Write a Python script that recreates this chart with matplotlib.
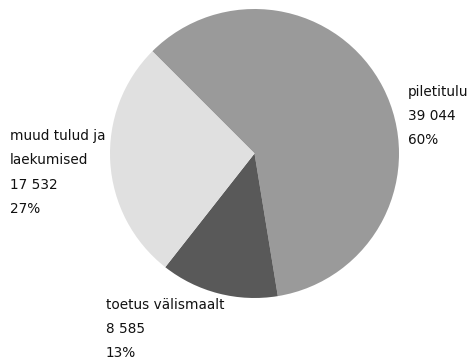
import matplotlib
matplotlib.use("Agg")
import matplotlib.pyplot as plt

labels = ["piletitulu", "toetus välismaalt", "muud tulud ja\nlaekumised"]
values = [39044, 8585, 17532]
percents = ["60%", "13%", "27%"]
value_labels = ["39 044", "8 585", "17 532"]
colors = ["#9a9a9a", "#595959", "#e0e0e0"]

W, H = 473, 363
fig = plt.figure(figsize=(W / 100, H / 100), dpi=100)
fig.patch.set_facecolor("white")

cx, cy, r = 254.5, 153.5, 144.5
ax = fig.add_axes([(cx - r) / W, 1 - (cy + r) / H, 2 * r / W, 2 * r / H])
ax.pie(values, colors=colors, startangle=135, counterclock=False,
       wedgeprops=dict(linewidth=0))
ax.set_aspect("equal")
ax.set_xlim(-1, 1)
ax.set_ylim(-1, 1)
ax.axis("off")

fam = ["Liberation Sans Narrow", "DejaVu Sans"]
pos = [(408, 116), (106, 329), (10, 172.5)]
for lab, vl, pc, (x, y) in zip(labels, value_labels, percents, pos):
    fig.text(x / W, 1 - y / H, f"{lab}\n{vl}\n{pc}", family=fam, fontsize=9.8,
             ha="left", va="center", linespacing=1.95, color="#111111")

fig.savefig("out.png", dpi=100, facecolor="white")
